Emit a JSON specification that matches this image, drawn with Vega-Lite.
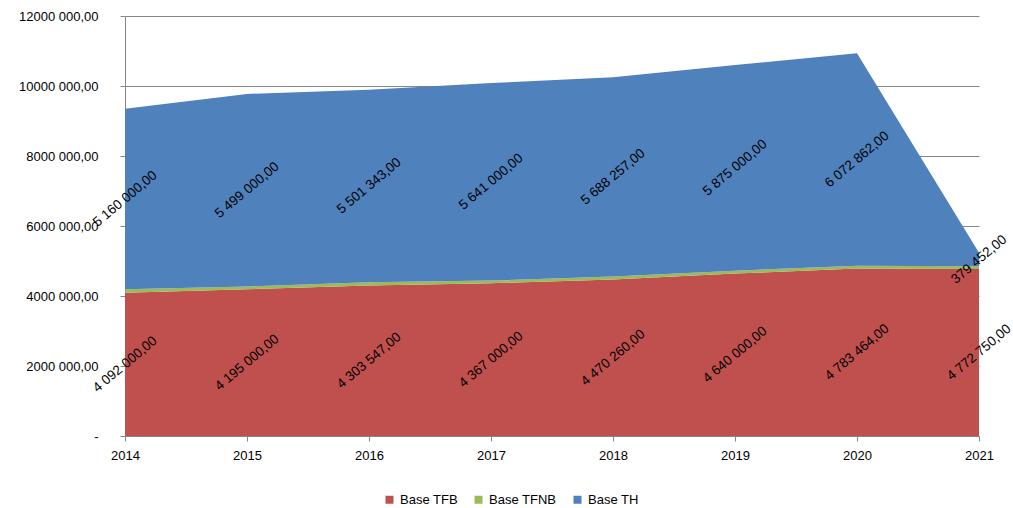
{
  "$schema": "https://vega.github.io/schema/vega-lite/v6.json",
  "width": 854,
  "height": 420,
  "autosize": {"type": "none"},
  "padding": {"left": 125, "top": 16, "right": 34, "bottom": 72},
  "background": "white",
  "config": {
    "locale": {"number": {"decimal": ",", "thousands": " ", "grouping": [3], "currency": ["", ""]}},
    "view": {"stroke": null},
    "font": "Liberation Sans"
  },
  "data": {
    "values": [
      {"year": 2014, "series": "Base TFB", "order": 1, "value": 4092000},
      {"year": 2015, "series": "Base TFB", "order": 1, "value": 4195000},
      {"year": 2016, "series": "Base TFB", "order": 1, "value": 4303547},
      {"year": 2017, "series": "Base TFB", "order": 1, "value": 4367000},
      {"year": 2018, "series": "Base TFB", "order": 1, "value": 4470260},
      {"year": 2019, "series": "Base TFB", "order": 1, "value": 4640000},
      {"year": 2020, "series": "Base TFB", "order": 1, "value": 4783464},
      {"year": 2021, "series": "Base TFB", "order": 1, "value": 4772750},
      {"year": 2014, "series": "Base TFNB", "order": 2, "value": 100000},
      {"year": 2015, "series": "Base TFNB", "order": 2, "value": 80000},
      {"year": 2016, "series": "Base TFNB", "order": 2, "value": 90000},
      {"year": 2017, "series": "Base TFNB", "order": 2, "value": 75000},
      {"year": 2018, "series": "Base TFNB", "order": 2, "value": 90000},
      {"year": 2019, "series": "Base TFNB", "order": 2, "value": 85000},
      {"year": 2020, "series": "Base TFNB", "order": 2, "value": 80000},
      {"year": 2021, "series": "Base TFNB", "order": 2, "value": 80000},
      {"year": 2014, "series": "Base TH", "order": 3, "value": 5160000},
      {"year": 2015, "series": "Base TH", "order": 3, "value": 5499000},
      {"year": 2016, "series": "Base TH", "order": 3, "value": 5501343},
      {"year": 2017, "series": "Base TH", "order": 3, "value": 5641000},
      {"year": 2018, "series": "Base TH", "order": 3, "value": 5688257},
      {"year": 2019, "series": "Base TH", "order": 3, "value": 5875000},
      {"year": 2020, "series": "Base TH", "order": 3, "value": 6072862},
      {"year": 2021, "series": "Base TH", "order": 3, "value": 379452}
    ]
  },
  "transform": [
    {"stack": "value", "groupby": ["year"], "sort": [{"field": "order"}], "as": ["v0", "v1"]},
    {"calculate": "(datum.v0 + datum.v1) / 2", "as": "vmid"}
  ],
  "layer": [
    {
      "mark": {"type": "area"},
      "encoding": {
        "x": {
          "field": "year", "type": "quantitative",
          "scale": {"domain": [2014, 2021], "nice": false, "zero": false},
          "axis": {
            "title": null, "values": [2014, 2015, 2016, 2017, 2018, 2019, 2020, 2021],
            "format": "d", "grid": false, "domainColor": "#868686", "tickColor": "#868686",
            "tickSize": 5, "labelPadding": 8, "labelFontSize": 13, "labelColor": "#000000",
            "labelFont": "Liberation Sans", "labelFlush": false, "labelOverlap": false
          }
        },
        "y": {
          "field": "v1", "type": "quantitative", "stack": null,
          "scale": {"domain": [0, 12000000], "nice": false},
          "axis": {
            "title": null,
            "values": [0, 2000000, 4000000, 6000000, 8000000, 10000000, 12000000],
            "labelExpr": "datum.value == 0 ? '-' : (datum.value / 1000) + ' 000,00'",
            "grid": true, "gridColor": "#868686", "domainColor": "#868686", "tickColor": "#868686",
            "tickSize": 5, "labelPadding": 22, "labelFontSize": 13, "labelColor": "#000000",
            "labelFont": "Liberation Sans", "labelFlush": false, "labelOverlap": false
          }
        },
        "y2": {"field": "v0"},
        "color": {
          "field": "series", "type": "nominal",
          "scale": {"domain": ["Base TFB", "Base TFNB", "Base TH"], "range": ["#C0504D", "#9BBB59", "#4F81BD"]},
          "legend": {
            "title": null, "orient": "none", "direction": "horizontal",
            "legendX": 258, "legendY": 477, "symbolType": "square", "symbolSize": 64,
            "symbolStrokeWidth": 0, "symbolOpacity": 1, "labelFontSize": 13, "labelColor": "#000000",
            "labelFont": "Liberation Sans", "labelOffset": 4, "columnPadding": 14
          }
        }
      }
    },
    {
      "transform": [{"filter": "datum.series != 'Base TFNB'"}],
      "mark": {"type": "text", "angle": 320, "fontSize": 13.5, "color": "#000000", "font": "Liberation Sans"},
      "encoding": {
        "x": {"field": "year", "type": "quantitative"},
        "y": {"field": "vmid", "type": "quantitative"},
        "text": {"field": "value", "type": "quantitative", "format": ",.2f"}
      }
    }
  ]
}
